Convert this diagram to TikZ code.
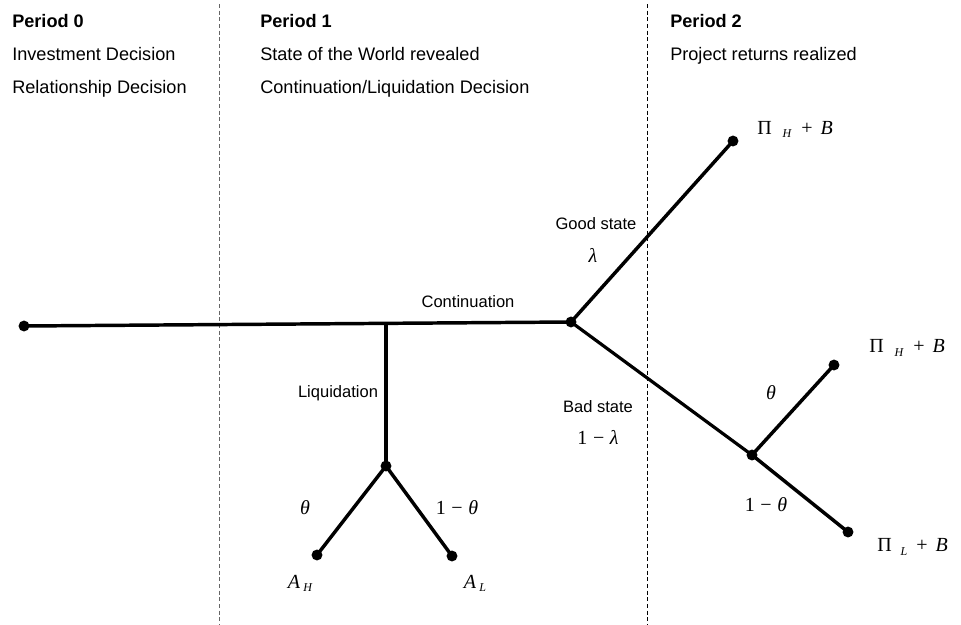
\documentclass[tikz,border=0pt]{standalone}
\usepackage{fontspec}
\setmainfont{Liberation Sans}
\newfontfamily\tms{Liberation Serif}
\newcommand{\mfont}{\tms\fontsize{15}{17}\selectfont}
\newcommand{\subl}[1]{\raisebox{-0.35ex}{\fontsize{9}{10}\selectfont\itshape #1}}
\newcommand{\minus}{\kern0.28em−\kern0.28em}
\begin{document}
\begin{tikzpicture}[x=0.75pt,y=-0.75pt,
  dot/.style={circle,fill=black,inner sep=0pt,minimum size=8.2pt},
  branch/.style={line width=2.6pt},
  divider/.style={line width=0.75pt,dash pattern=on 3pt off 2pt},
  txt/.style={inner sep=0pt,anchor=base west,font=\fontsize{13.6}{15}\selectfont},
  hd/.style={txt,font=\fontsize{13.6}{15}\selectfont\bfseries},
  lbl/.style={inner sep=0pt,font=\fontsize{12.4}{14}\selectfont},
  mlbl/.style={inner sep=0pt,font=\mfont}]
\useasboundingbox (0,0) rectangle (961,625);
% dividers
\coordinate (d1t) at (219,4); \coordinate (d1b) at (219,625);
\coordinate (d2t) at (647,4); \coordinate (d2b) at (647,625);
\draw[divider,black!60] (d1t) -- (d1b);
\draw[divider] (d2t) -- (d2b);
% headings
\node[hd] (p0) at (12,27) {Period 0};
\node[txt] (p0a) at (12,60) {Investment Decision};
\node[txt] (p0b) at (12,93) {Relationship Decision};
\node[hd] (p1) at (260,27) {Period 1};
\node[txt] (p1a) at (260,60) {State of the World revealed};
\node[txt] (p1b) at (260,93) {Continuation/Liquidation Decision};
\node[hd] (p2) at (670,27) {Period 2};
\node[txt] (p2a) at (670,60) {Project returns realized};
% tree nodes
\node[dot] (root) at (24,326) {};
\node[dot] (cont) at (571,322) {};
\coordinate (junc) at (386,323.3);
\node[dot] (liq) at (386,466) {};
\node[dot] (ah) at (317,555) {};
\node[dot] (al) at (452,556) {};
\node[dot] (good) at (733,141) {};
\node[dot] (bad) at (752,455) {};
\node[dot] (bh) at (834,365) {};
\node[dot] (bl) at (848,532) {};
% branches
\draw[branch] (root.center) -- (cont.center);
\draw[branch] (junc) -- (liq.center);
\draw[branch] (liq.center) -- (ah.center);
\draw[branch] (liq.center) -- (al.center);
\draw[branch] (cont.center) -- (good.center);
\draw[branch,line width=2.4pt] (cont.center) -- (bad.center);
\draw[branch] (bad.center) -- (bh.center);
\draw[branch] (bad.center) -- (bl.center);
% labels
\node[lbl] (lcont) at (468,302) {Continuation};
\node[lbl] (lliq) at (338,393) {Liquidation};
\node[lbl] (lgood) at (596,224) {Good state};
\node[mlbl] (llam) at (593,255) {\itshape λ};
\node[lbl] (lbad) at (598,407) {Bad state};
\node[mlbl] (l1lam) at (598,437) {1\minus\itshape λ};
\node[mlbl] (lth1) at (305,508) {\itshape θ};
\node[mlbl] (l1th1) at (457,508) {1\minus\itshape θ};
\node[mlbl] (lah) at (300,583) {\itshape A\,\subl{H}};
\node[mlbl] (lal) at (475,583) {\itshape A\,\subl{L}};
\node[mlbl] (lth2) at (771,393) {\itshape θ};
\node[mlbl] (l1th2) at (766,505) {1\minus\itshape θ};
\node[mlbl,anchor=base west] (rgood) at (757,134) {Π\hspace{0.55em}\subl{H}\hspace{0.5em}+\hspace{0.4em}\itshape B};
\node[mlbl,anchor=west] (rbh) at (869,348) {Π\hspace{0.55em}\subl{H}\hspace{0.5em}+\hspace{0.4em}\itshape B};
\node[mlbl,anchor=west] (rbl) at (877,547) {Π\hspace{0.45em}\subl{L}\hspace{0.45em}+\hspace{0.4em}\itshape B};
\end{tikzpicture}
\end{document}
